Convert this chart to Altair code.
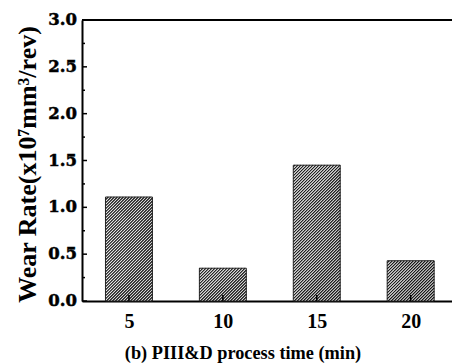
import altair as alt
import numpy as np
import pandas as pd

# ---- data ----
times = [5, 10, 15, 20]
wear = [1.11, 0.35, 1.45, 0.43]
x_tick_values = [5, 10, 15, 20]
y_tick_values = [0.0, 0.5, 1.0, 1.5, 2.0, 2.5, 3.0]
y_tick_labels = ["0.0", "0.5", "1.0", "1.5", "2.0", "2.5", "3.0"]
y_minor_values = [0.25, 0.75, 1.25, 1.75, 2.25, 2.75]
x_title = "(b) PIII&D process time (min)"
y_title = "Wear Rate(x10\u2077mm\u00b3/rev)"

# ---- layout constants ----
W, H = 370, 281
XMIN, XMAX = 2.5, 22.2
YMIN, YMAX = 0.0, 3.0
BAR_HALF = 1.25
FONT = "Liberation Serif"

bars = pd.DataFrame({
    "t": times,
    "v": wear,
    "lo": [t - BAR_HALF for t in times],
    "hi": [t + BAR_HALF for t in times],
    "zero": [0.0] * len(times),
})

# hatch segments derived from bar values (45 degree "/" lines)
px_x = W / (XMAX - XMIN)
px_y = H / (YMAX - YMIN)
step = 3.0
segs = []
for t, v in zip(times, wear):
    x0 = (t - BAR_HALF - XMIN) * px_x
    w = 2 * BAR_HALF * px_x
    h = v * px_y
    for c in np.arange(-w + 1.0, h, step):
        u_lo = max(0.0, -c)
        u_hi = min(w, h - c)
        if u_hi - u_lo > 0.4:
            segs.append({
                "x1": (x0 + u_lo) / px_x + XMIN,
                "y1": (u_lo + c) / px_y,
                "x2": (x0 + u_hi) / px_x + XMIN,
                "y2": (u_hi + c) / px_y,
            })
hatch = pd.DataFrame(segs)

xscale = alt.Scale(domain=[XMIN, XMAX], nice=False, zero=False)
yscale = alt.Scale(domain=[YMIN, YMAX], nice=False)

x_axis = alt.Axis(
    values=x_tick_values, format="d", title=x_title,
    labelBaseline="alphabetic", labelPadding=26,
    labelColor="black", labelFontWeight="bold",
    titleFontSize=18.3,
    titleX=160.5, titleY=57, titleBaseline="alphabetic", titleAlign="center",
)
y_axis = alt.Axis(
    values=y_tick_values, title=y_title, labels=False,
    titleFontSize=26,
    titleAngle=-90, titleX=-47, titleY=144, titleBaseline="alphabetic", titleAlign="center",
)

base_bars = alt.Chart(bars).mark_rect(fill="white", stroke=None).encode(
    x=alt.X("lo:Q", scale=xscale, axis=x_axis),
    x2="hi:Q",
    y=alt.Y("zero:Q", scale=yscale, axis=y_axis),
    y2="v:Q",
)

hatch_layer = alt.Chart(hatch).mark_rule(color="#111111", strokeWidth=1.15).encode(
    x=alt.X("x1:Q", scale=xscale, axis=x_axis),
    x2="x2:Q",
    y=alt.Y("y1:Q", scale=yscale, axis=y_axis),
    y2="y2:Q",
)

outline = alt.Chart(bars).mark_rect(fillOpacity=0, stroke="#222222", strokeWidth=1).encode(
    x=alt.X("lo:Q", scale=xscale, axis=x_axis),
    x2="hi:Q",
    y=alt.Y("zero:Q", scale=yscale, axis=y_axis),
    y2="v:Q",
)

xt = pd.DataFrame({"xt": x_tick_values})
x_ticks = alt.Chart(xt).mark_rule(color="black", strokeWidth=1.5).encode(
    x=alt.X("xt:Q", scale=xscale, axis=x_axis),
    y=alt.value(H),
    y2=alt.value(H - 6),
)

yt = pd.DataFrame({"yt": y_tick_values, "lab": y_tick_labels})
y_ticks = alt.Chart(yt).mark_rule(color="black", strokeWidth=1.5).encode(
    y=alt.Y("yt:Q", scale=yscale, axis=y_axis),
    x=alt.value(0),
    x2=alt.value(5),
)
y_labels = alt.Chart(yt).mark_text(
    align="right", baseline="middle", font="DejaVu Serif", fontWeight="bold",
    fontSize=16.5, color="black", stroke="black", strokeWidth=0.5,
).encode(
    y=alt.Y("yt:Q", scale=yscale, axis=y_axis),
    x=alt.value(-5),
    text="lab:N",
)

ym = pd.DataFrame({"ym": y_minor_values})
y_minor = alt.Chart(ym).mark_rule(color="black", strokeWidth=1.5).encode(
    y=alt.Y("ym:Q", scale=yscale, axis=y_axis),
    x=alt.value(0),
    x2=alt.value(3),
)

top_border = alt.Chart(bars).mark_rule(color="black", strokeWidth=2).encode(
    x=alt.value(0),
    x2=alt.value(W),
    y=alt.value(0),
)

chart = alt.layer(
    base_bars, hatch_layer, outline, x_ticks, y_ticks, y_minor, y_labels, top_border
).properties(
    width=W, height=H,
    autosize=alt.AutoSizeParams(type="none"),
    padding={"left": 82, "top": 20, "right": 0, "bottom": 63},
    background="white",
).configure_view(
    stroke=None
).configure_axis(
    ticks=False, tickSize=0, grid=False,
    domainColor="black", domainWidth=2,
    labelFont=FONT, labelFontWeight="bold", labelFontSize=20, labelColor="black",
    titleFont=FONT, titleFontWeight="bold", titleColor="black",
)

chart.save("out.html", embed_options={"renderer": "svg", "actions": False})
